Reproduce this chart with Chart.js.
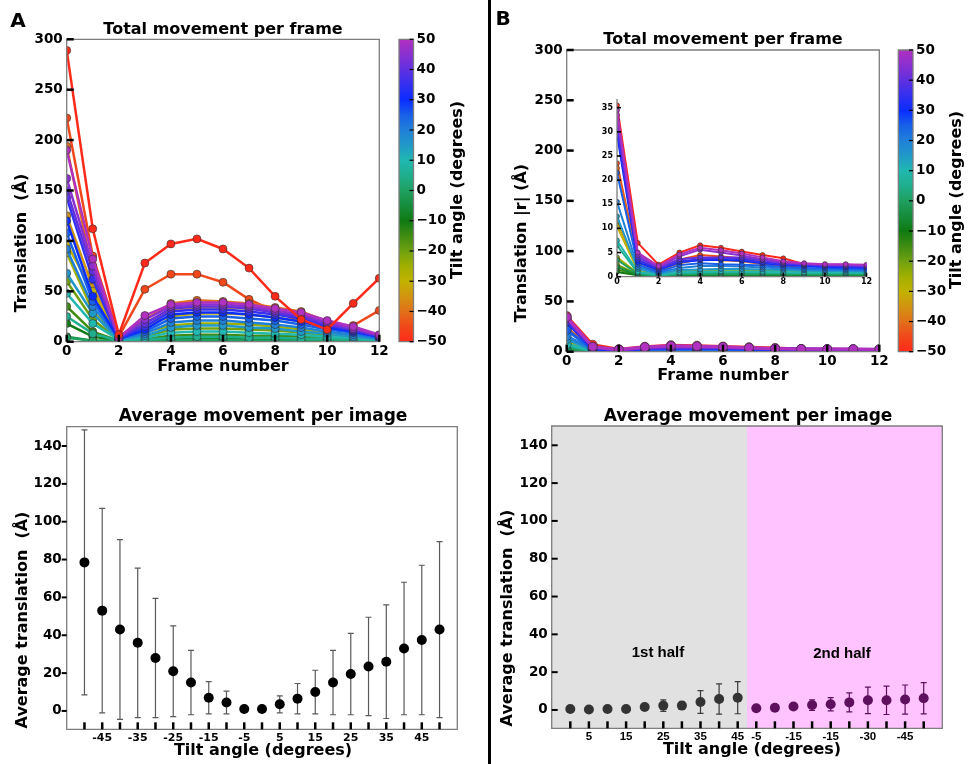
<!DOCTYPE html>
<html>
<head>
<meta charset="utf-8">
<title>Movement per frame</title>
<script src="https://cdn.jsdelivr.net/npm/chart.js@4.4.1/dist/chart.umd.min.js"></script>
<style>
  body { margin: 0; background: #fff; }
  #fig { position: relative; width: 968px; height: 764px; overflow: hidden; background: #fff; }
  #fig canvas { position: absolute; left: 0; top: 0; }
  #divider { position: absolute; left: 488px; top: 0; width: 3px; height: 764px; background: #000; }
</style>
</head>
<body>
<div id="fig">
  <canvas id="framesA" width="968" height="764"></canvas>
  <canvas id="barA" width="968" height="764"></canvas>
  <canvas id="framesB" width="968" height="764"></canvas>
  <canvas id="insetB" width="968" height="764"></canvas>
  <canvas id="barB" width="968" height="764"></canvas>
  <canvas id="avgA" width="968" height="764"></canvas>
  <canvas id="avgB" width="968" height="764"></canvas>
  <div id="divider"></div>
</div>
<script>
// ---- data ----
const frames = [0, 1, 2, 3, 4, 5, 6, 7, 8, 9, 10, 11, 12];
const tiltAngles = [-50, -45, -40, -35, -30, -25, -20, -15, -10, -5, 0, 5, 10, 15, 20, 25, 30, 35, 40, 45, 50];

// translation per frame (Å), one row per tilt angle, run A
const translationA = [
  [289, 112, 7, 78, 97, 102, 92, 73, 45, 22, 12, 38, 63],
  [222, 85, 5, 52, 67, 67, 59, 42, 30, 20, 13, 16, 31],
  [194, 68, 5, 22, 38, 41, 40, 38, 34, 30, 20, 12, 6],
  [125, 54, 4, 19, 31, 34, 34, 33, 30, 26, 18, 13, 6],
  [97, 50, 3, 16, 25, 28, 28, 27, 24, 20, 14, 10, 4],
  [88, 30, 2, 9, 16, 18, 18, 17, 15, 12, 9, 6, 3],
  [60, 22, 2, 5, 12, 13, 13, 12, 11, 9, 6, 4, 2],
  [35, 10, 1, 3, 6, 7, 7, 6, 6, 5, 4, 3, 2],
  [18, 5, 1, 2, 3, 3, 3, 3, 3, 2, 2, 2, 1],
  [5, 1, 1, 1, 1, 1, 1, 1, 1, 1, 1, 1, 1],
  [4, 1, 1, 1, 1, 2, 2, 1, 1, 1, 1, 1, 1],
  [25, 8, 1, 2, 4, 5, 5, 4, 4, 3, 3, 2, 1],
  [48, 18, 2, 4, 9, 10, 10, 9, 8, 7, 5, 4, 2],
  [68, 28, 2, 6, 14, 16, 16, 14, 13, 10, 8, 5, 3],
  [92, 35, 2, 8, 19, 21, 21, 19, 17, 14, 10, 7, 3],
  [108, 40, 3, 10, 23, 25, 25, 23, 21, 17, 12, 9, 4],
  [120, 45, 3, 12, 27, 29, 29, 27, 24, 20, 14, 10, 5],
  [143, 62, 3, 15, 30, 32, 32, 30, 27, 23, 16, 11, 5],
  [150, 70, 4, 18, 33, 35, 35, 33, 29, 25, 17, 12, 6],
  [162, 75, 4, 22, 35, 37, 37, 35, 31, 27, 19, 13, 6],
  [190, 82, 4, 26, 37, 39, 39, 37, 33, 29, 21, 15, 7]
];

// translation |r| per frame (Å), one row per tilt angle, run B
const translationB = [
  [35.5, 7.0, 2.5, 5.0, 6.5, 6.0, 5.2, 4.5, 3.8, 2.6, 2.4, 2.3, 2.0],
  [23.5, 3.5, 1.5, 3.5, 4.5, 4.2, 3.8, 3.0, 2.2, 1.8, 1.2, 0.8, 0.3],
  [22.5, 3.0, 1.2, 2.8, 3.6, 3.4, 3.2, 2.6, 2.0, 1.6, 1.0, 0.7, 0.4],
  [11.5, 1.4, 0.5, 1.2, 1.4, 1.5, 1.4, 1.3, 1.1, 1.0, 0.9, 0.8, 0.6],
  [10.5, 1.2, 0.4, 1.0, 1.2, 1.3, 1.3, 1.2, 1.0, 0.9, 0.8, 0.7, 0.6],
  [4.0, 0.7, 0.3, 0.6, 0.8, 1.6, 1.5, 1.4, 1.3, 1.2, 1.1, 1.0, 1.0],
  [2.5, 0.5, 0.2, 0.4, 0.5, 0.5, 0.5, 0.5, 0.5, 0.5, 0.5, 0.5, 0.5],
  [1.5, 0.4, 0.1, 0.3, 0.3, 0.3, 0.3, 0.3, 0.3, 0.3, 0.3, 0.3, 0.3],
  [1.0, 0.3, 0.1, 0.2, 0.2, 0.2, 0.2, 0.2, 0.2, 0.2, 0.2, 0.2, 0.2],
  [2.0, 0.4, 0.2, 0.4, 0.4, 0.4, 0.4, 0.4, 0.4, 0.4, 0.4, 0.4, 0.4],
  [3.5, 0.6, 0.2, 0.5, 0.6, 0.6, 0.6, 0.6, 0.6, 0.5, 0.5, 0.5, 0.5],
  [6.5, 0.8, 0.3, 0.7, 0.8, 0.9, 0.9, 0.8, 0.8, 0.7, 0.7, 0.7, 0.7],
  [7.5, 1.0, 0.4, 0.9, 1.0, 1.1, 1.1, 1.0, 0.9, 0.9, 0.9, 0.9, 0.8],
  [12.5, 1.6, 0.6, 1.4, 1.5, 1.6, 1.6, 1.5, 1.4, 1.3, 1.2, 1.2, 1.1],
  [15.5, 2.0, 0.8, 1.8, 2.2, 2.2, 2.1, 1.9, 1.7, 1.5, 1.4, 1.4, 1.3],
  [21.5, 2.5, 1.0, 2.4, 2.8, 2.6, 2.5, 2.3, 2.0, 1.8, 1.7, 1.6, 1.5],
  [29.5, 3.0, 1.4, 3.0, 3.4, 3.5, 3.3, 2.8, 2.4, 2.2, 2.0, 1.9, 1.8],
  [30.5, 3.5, 1.6, 3.2, 3.6, 3.8, 3.6, 3.0, 2.6, 2.4, 2.2, 2.1, 2.0],
  [32.5, 4.0, 1.8, 3.6, 4.0, 4.0, 4.0, 3.4, 2.8, 2.6, 2.4, 2.3, 2.2],
  [33.5, 4.5, 2.0, 4.2, 5.6, 5.0, 4.4, 3.6, 3.0, 2.7, 2.5, 2.5, 2.3],
  [34.5, 5.0, 2.2, 4.6, 6.0, 5.5, 4.8, 4.0, 3.2, 2.8, 2.6, 2.6, 2.5]
];

// average translation per tilt image and its spread (Å), run A
const avgTranslationA = [78.5, 53, 43, 36, 28, 21, 15, 7, 4.5, 1, 1, 3.5, 6.5, 10, 15, 19.5, 23.5, 26, 33, 37.5, 43];
const sdTranslationA = [70, 54, 47.5, 39.5, 31.5, 24, 17, 8.5, 6, 0.5, 0.5, 4.5, 8, 11.5, 17, 21.5, 26, 30, 35, 39.5, 46.5];
const tiltTickLabelsA = ['', '-45', '', '-35', '', '-25', '', '-15', '', '-5', '', '5', '', '15', '', '25', '', '35', '', '45', ''];

// run B split into the two halves of the tilt series
const imageIndexB = [0, 1, 2, 3, 4, 5, 6, 7, 8, 9, 10, 11, 12, 13, 14, 15, 16, 17, 18, 19];
const firstHalfAvg = [0.5, 0.2, 0.5, 0.5, 1.6, 2.3, 2.3, 4.2, 5.8, 6.5];
const firstHalfSd = [0.3, 0.3, 0.3, 0.3, 0.5, 3, 2, 6, 8, 8.5];
const secondHalfAvg = [0.9, 1.2, 1.8, 2.6, 3.0, 4.0, 5.1, 5.1, 5.5, 6.2];
const secondHalfSd = [0.3, 0.3, 0.8, 2.8, 3.5, 5, 7, 7.5, 7.7, 8.3];
const tiltTickLabelsB = ['', '5', '', '15', '', '25', '', '35', '', '45', '-5', '', '-15', '', '-15', '', '-30', '', '-45', ''];

const frameTicks = [0, 2, 4, 6, 8, 10, 12];
const translationTicks = [0, 50, 100, 150, 200, 250, 300];
const insetTicks = [0, 5, 10, 15, 20, 25, 30, 35];
const averageTicks = [0, 20, 40, 60, 80, 100, 120, 140];
const colorbarTicks = [-50, -40, -30, -20, -10, 0, 10, 20, 30, 40, 50];
const colorbarLabels = ['\u221250', '\u221240', '\u221230', '\u221220', '\u221210', '0', '10', '20', '30', '40', '50'];

// ---- styling ----
const tiltColors = [
  '#ff2a1a', '#f0481a', '#e2701a', '#d29410', '#c2b200', '#a0b000', '#70a010',
  '#3f8c12', '#0f7a12', '#168c3c', '#1fa060', '#1fae8c', '#20b8b0', '#2098c8',
  '#2080d8', '#1860e8', '#0a2cff', '#3430ef', '#6030e0', '#8a30d0', '#b030c0'
];
const W = 968, H = 764;
const DEJAVU = '"DejaVu Sans", sans-serif';
const ARIAL = '"Liberation Sans", Arial, sans-serif';
const YW = 40, XH = 20;

function bold(size, family) {
  return { family: family || DEJAVU, size: size, weight: 'bold' };
}

// layout padding that puts the plot area on [left, top, right, bottom]
function areaPadding(box, xH, yRight) {
  const [l, t, r, b] = box;
  return yRight
    ? { left: l, top: t, right: W - r - YW, bottom: H - b - xH }
    : { left: l - YW, top: t, right: W - r, bottom: H - b - xH };
}

function axis(o) {
  return {
    type: 'linear',
    position: o.position,
    display: o.display !== false,
    min: o.min,
    max: o.max,
    grid: { display: false, drawTicks: false },
    border: { display: false },
    afterBuildTicks: s => { s.ticks = o.ticks.map(v => ({ value: v })); },
    afterFit: s => { if (s.isHorizontal()) s.height = XH; else s.width = YW; },
    ticks: {
      autoSkip: false, maxRotation: 0, minRotation: 0,
      padding: o.pad, color: '#000', font: o.font,
      callback: (v, i) => (o.labels ? o.labels[i] : String(v))
    }
  };
}

// spines, inward/outward tick marks, bands, error bars, colour bar and texts
function figure(cfg) {
  return {
    id: 'figure',
    beforeDatasetsDraw(chart) {
      const { ctx, chartArea: a, scales } = chart;
      ctx.save();
      (cfg.bands || []).forEach(b => {
        const x0 = scales.x.getPixelForValue(b.from), x1 = scales.x.getPixelForValue(b.to);
        ctx.fillStyle = b.color;
        ctx.fillRect(x0, a.top, x1 - x0, a.bottom - a.top);
      });
      if (cfg.colorbar) {
        const y = scales.y;
        const g = ctx.createLinearGradient(0, y.getPixelForValue(-50), 0, y.getPixelForValue(50));
        tiltAngles.forEach((t, i) => g.addColorStop((t + 50) / 100, tiltColors[i]));
        ctx.fillStyle = g;
        ctx.fillRect(a.left, a.top, a.right - a.left, a.bottom - a.top);
      }
      chart.data.datasets.forEach((ds, i) => {
        if (!ds.errors) return;
        const meta = chart.getDatasetMeta(i);
        ctx.strokeStyle = ds.errorColor;
        ctx.lineWidth = 1.2;
        meta.data.forEach((pt, j) => {
          const v = ds.data[j].y, e = ds.errors[j];
          const top = scales.y.getPixelForValue(v + e), bot = scales.y.getPixelForValue(v - e);
          ctx.beginPath();
          ctx.moveTo(pt.x, top); ctx.lineTo(pt.x, bot);
          ctx.moveTo(pt.x - 3, top); ctx.lineTo(pt.x + 3, top);
          ctx.moveTo(pt.x - 3, bot); ctx.lineTo(pt.x + 3, bot);
          ctx.stroke();
        });
      });
      ctx.restore();
    },
    afterDraw(chart) {
      const { ctx, chartArea: a } = chart;
      ctx.save();
      ctx.strokeStyle = '#7d7d7d';
      ctx.lineWidth = 1.3;
      ctx.beginPath();
      if (cfg.spines === 'lb') {
        ctx.moveTo(a.left, a.top); ctx.lineTo(a.left, a.bottom); ctx.lineTo(a.right, a.bottom);
      } else {
        ctx.rect(a.left, a.top, a.right - a.left, a.bottom - a.top);
      }
      ctx.stroke();
      ctx.strokeStyle = '#000';
      (cfg.marks || []).forEach(m => {
        const s = chart.scales[m.axis];
        ctx.lineWidth = m.w;
        s.ticks.forEach(t => {
          const p = s.getPixelForValue(t.value);
          ctx.beginPath();
          if (s.isHorizontal()) {
            ctx.moveTo(p, a.bottom);
            ctx.lineTo(p, m.dir === 'in' ? a.bottom - m.len : a.bottom + m.len);
          } else {
            const right = s.position === 'right';
            const edge = right ? a.right : a.left;
            const sign = right === (m.dir === 'in') ? -1 : 1;
            ctx.moveTo(edge, p);
            ctx.lineTo(edge + sign * m.len, p);
          }
          ctx.stroke();
        });
      });
      (cfg.texts || []).forEach(t => {
        ctx.save();
        ctx.font = 'bold ' + t.size + 'px ' + (t.family || DEJAVU);
        ctx.fillStyle = '#000';
        ctx.textAlign = 'center';
        ctx.textBaseline = 'middle';
        ctx.translate(t.x, t.y);
        if (t.rot) ctx.rotate(-Math.PI / 2);
        ctx.fillText(t.text, 0, 0);
        ctx.restore();
      });
      ctx.restore();
    }
  };
}

const baseOptions = {
  responsive: false,
  animation: false,
  events: [],
  plugins: { legend: { display: false }, tooltip: { enabled: false } }
};

// stacking: run A keeps -50° on top, run B puts the positive tilts on top
const orderA = t => (t === -50 ? 0 : 100 - t);
const orderB = t => 50 - t;

function frameSeries(rows, look) {
  return rows.map((row, i) => ({
    data: row.map((v, f) => ({ x: frames[f], y: v })),
    borderColor: tiltColors[i],
    backgroundColor: tiltColors[i],
    borderWidth: look.lw,
    pointRadius: look.r,
    pointBackgroundColor: tiltColors[i],
    pointBorderColor: 'rgba(45,45,45,0.75)',
    pointBorderWidth: 0.8,
    tension: 0,
    order: look.order(tiltAngles[i])
  }));
}

function frameChart(id, rows, box, yMax, yTicks, texts, look) {
  new Chart(document.getElementById(id), {
    type: 'line',
    data: { datasets: frameSeries(rows, look) },
    options: Object.assign({}, baseOptions, {
      layout: { padding: areaPadding(box, XH, false) },
      scales: {
        x: axis({ position: 'bottom', min: 0, max: 12, ticks: frameTicks, font: bold(look.font), pad: look.xpad }),
        y: axis({ position: 'left', min: 0, max: yMax, ticks: yTicks, font: bold(look.font), pad: look.ypad })
      }
    }),
    plugins: [figure({
      spines: look.spines,
      marks: [{ axis: 'x', dir: 'in', len: look.tick, w: look.tw }, { axis: 'y', dir: 'in', len: look.tick, w: look.tw }],
      texts: texts
    })]
  });
}

function colorbar(id, box, texts) {
  new Chart(document.getElementById(id), {
    type: 'scatter',
    data: { datasets: [] },
    options: Object.assign({}, baseOptions, {
      layout: { padding: areaPadding(box, 0, true) },
      scales: {
        x: { type: 'linear', display: false, min: 0, max: 1 },
        y: axis({ position: 'right', min: -50, max: 50, ticks: colorbarTicks, labels: colorbarLabels, font: bold(13.5), pad: 3 })
      }
    }),
    plugins: [figure({ colorbar: true, marks: [{ axis: 'y', dir: 'in', len: 4, w: 1.2 }], texts: texts })]
  });
}

// ---- panel A, top: total movement per frame ----
frameChart('framesA', translationA, [66.7, 39.3, 379.3, 341.7], 300, translationTicks, [
  { text: 'A', x: 18, y: 22, size: 20 },
  { text: 'Total movement per frame', x: 223, y: 30, size: 16 },
  { text: 'Frame number', x: 223, y: 367, size: 16 },
  { text: 'Translation  (Å)', x: 22, y: 243, size: 16, rot: true }
], { r: 4, lw: 2.5, font: 13.5, xpad: 2, ypad: 4, tick: 7, tw: 2.5, spines: 'box', order: orderA });

colorbar('barA', [399, 39.3, 413.5, 341.7], [
  { text: 'Tilt angle (degrees)', x: 458, y: 190, size: 16, rot: true }
]);

// ---- panel B, top: same quantity, with a zoomed inset ----
frameChart('framesB', translationB, [566.7, 50, 879.3, 351.7], 300, translationTicks, [
  { text: 'B', x: 503, y: 20, size: 20 },
  { text: 'Total movement per frame', x: 723, y: 40, size: 16 },
  { text: 'Frame number', x: 723, y: 376, size: 16 },
  { text: 'Translation |r| (Å)', x: 522, y: 243, size: 16, rot: true }
], { r: 4.5, lw: 3, font: 13.5, xpad: 2, ypad: 4, tick: 7, tw: 2.5, spines: 'box', order: orderB });

frameChart('insetB', translationB, [617, 99, 866.5, 276.7], 36.8, insetTicks, [],
  { r: 2.5, lw: 2, font: 8, xpad: 0, ypad: 4, tick: 4, tw: 1.6, spines: 'lb', order: orderB });

colorbar('barB', [898.3, 50, 913, 351.7], [
  { text: 'Tilt angle (degrees)', x: 957, y: 200, size: 16, rot: true }
]);

// ---- panel A, bottom: average movement per tilt image ----
new Chart(document.getElementById('avgA'), {
  type: 'scatter',
  data: {
    datasets: [{
      data: tiltAngles.map((t, i) => ({ x: t, y: avgTranslationA[i] })),
      errors: sdTranslationA,
      errorColor: '#5a5a5a',
      pointRadius: 5,
      pointBackgroundColor: '#000',
      pointBorderWidth: 0
    }]
  },
  options: Object.assign({}, baseOptions, {
    layout: { padding: areaPadding([66.7, 426.7, 457.3, 729.3], XH, false) },
    scales: {
      x: axis({ position: 'bottom', min: -55, max: 55, ticks: tiltAngles, labels: tiltTickLabelsA, font: bold(11), pad: 2 }),
      y: axis({ position: 'left', min: -9.7, max: 150.2, ticks: averageTicks, font: bold(13.5), pad: 5 })
    }
  }),
  plugins: [figure({
    marks: [{ axis: 'x', dir: 'in', len: 7, w: 2.5 }, { axis: 'y', dir: 'out', len: 5, w: 2 }],
    texts: [
      { text: 'Average movement per image', x: 263, y: 417, size: 17 },
      { text: 'Tilt angle (degrees)', x: 263, y: 751, size: 16 },
      { text: 'Average translation  (Å)', x: 23, y: 620, size: 16, rot: true }
    ]
  })]
});

// ---- panel B, bottom: first and second half of the tilt series ----
new Chart(document.getElementById('avgB'), {
  type: 'scatter',
  data: {
    datasets: [{
      data: firstHalfAvg.map((v, i) => ({ x: imageIndexB[i], y: v })),
      errors: firstHalfSd,
      errorColor: '#3a3a3a',
      pointRadius: 5,
      pointBackgroundColor: '#333333',
      pointBorderWidth: 0
    }, {
      data: secondHalfAvg.map((v, i) => ({ x: imageIndexB[i + 10], y: v })),
      errors: secondHalfSd,
      errorColor: '#5e0f5e',
      pointRadius: 5,
      pointBackgroundColor: '#5e0f5e',
      pointBorderWidth: 0
    }]
  },
  options: Object.assign({}, baseOptions, {
    layout: { padding: areaPadding([551.7, 426, 942.3, 728.3], XH, false) },
    scales: {
      x: axis({ position: 'bottom', min: -1, max: 20, ticks: imageIndexB, labels: tiltTickLabelsB, font: bold(11.5, ARIAL), pad: 2 }),
      y: axis({ position: 'left', min: -9.7, max: 150.2, ticks: averageTicks, font: bold(13.5), pad: 4 })
    }
  }),
  plugins: [figure({
    bands: [{ from: -1, to: 9.5, color: '#e1e1e1' }, { from: 9.5, to: 20, color: '#ffc3ff' }],
    marks: [{ axis: 'x', dir: 'in', len: 7, w: 2.5 }, { axis: 'y', dir: 'in', len: 6, w: 2 }],
    texts: [
      { text: 'Average movement per image', x: 748, y: 417, size: 17 },
      { text: 'Tilt angle (degrees)', x: 752, y: 750, size: 16 },
      { text: 'Average translation  (Å)', x: 508, y: 618, size: 16, rot: true },
      { text: '1st half', x: 658, y: 653, size: 15, family: ARIAL },
      { text: '2nd half', x: 842, y: 654, size: 15, family: ARIAL }
    ]
  })]
});
</script>
</body>
</html>
